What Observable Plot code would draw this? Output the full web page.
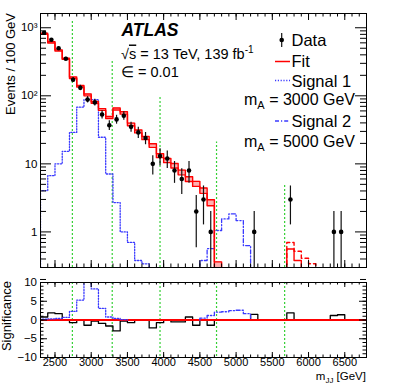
<!DOCTYPE html>
<html><head><meta charset="utf-8">
<script src="https://cdn.jsdelivr.net/npm/d3@7"></script>
<script src="https://cdn.jsdelivr.net/npm/@observablehq/plot@0.6"></script>
<style>
html,body{margin:0;padding:0;background:#fff;}
#wrap{position:relative;width:407px;height:387px;overflow:hidden;background:#fff;}
#wrap svg{position:absolute;left:0;}
</style></head>
<body><div id="wrap"></div>
<script>
// ---------------- data (bin centres in GeV, 100 GeV bins) ----------------
const binCenters = [2350,2450,2550,2650,2750,2850,2950,3050,3150,3250,3350,3450,3550,3650,3750,3850,3950,4050,4150,4250,4350,4450,4550,4650,4750,4850,4950,5050,5150,5250,5350,5450,5550,5650,5750,5850,5950,6050,6150,6250,6350,6450,6550,6650,6750];

const dataMass   = [2350,2450,2550,2650,2750,2850,2950,3050,3150,3250,3350,3450,3550,3650,3750,3850,3950,4050,4150,4250,4350,4450,4550,4650,5250,5750,6350,6450];
const dataEvents = [844,666,501,350,172,131,88,80,53,37,45,51,35,29,24,10,13,12,8,6,8,2,3,1,1,3,1,1];

const fitMass   = [2350,2450,2550,2650,2750,2850,2950,3050,3150,3250,3350,3450,3550,3650,3750,3850,3950,4050,4150,4250,4350,4450,4550,4650,4750];
const fitEvents = [816,610,464,350,184,138,103,80,63,48,64,56,38,30,24,18.6,13.2,11.2,9.4,7.5,6.0,5.1,4.05,2.7,0.33];
const fitRelUnc = [0.02,0.02,0.02,0.02,0.025,0.025,0.03,0.03,0.03,0.035,0.035,0.04,0.045,0.05,0.055,0.06,0.065,0.07,0.075,0.08,0.08,0.085,0.09,0.1,0.1];

const tailFitMass = [5750,5850];
const tailFit     = [0.56,0.38];
const tailUpMass  = [5750,5850,5950,6050];
const tailUp      = [0.70,0.52,0.41,0.34];

const sig1Mass   = [2350,2450,2550,2650,2750,2850,2950,3050,3150,3250,3350,3450,3550,3650,3750];
const sig1Events = [4.05,6.7,10,15.3,29,68,88,88,24.6,7.1,2.7,1.0,0.7,0.38,0.34];
const sig2Mass   = [4550,4650,4750,4850,4950,5050,5150];
const sig2Events = [0.38,0.57,1.05,1.55,1.84,1.47,0.63];

const greenX   = [2740,3290,3950,4730,5670];
const greenTop = [1280,330,95,21,5.1];

// significance panel
const sigData = [0.8,1.9,1.7,0,-0.7,0,-1.4,-0.3,-0.9,-1.6,-2.9,-0.3,-0.7,0,0,-2.1,-0.7,0,-0.5,-0.5,0.8,-1.4,0,-1.4,0,0,0,0,0,1.5,0,0,0,0,1.9,0,0,0,0,0,1.2,1.4,0,0,0];
const sigS1Mass = [2350,2450,2550,2650,2750,2850,2950,3050,3150,3250,3350,3450];
const sigS1     = [0.2,0.3,0.4,0.7,2.3,5.3,10.5,8.3,3.1,0.8,0.4,0.1];
const sigS2Mass = [4550,4650,4750,4850,4950,5050,5150];
const sigS2     = [0.5,1.2,2.1,2.2,2.5,2.6,1.7];

// tick labels
const xTickLabels = [2500,3000,3500,4000,4500,5000,5500,6000,6500];
const yTickVals   = [1,10,100,1000];
const yTickText   = ["1","10","10²","10³"];
const sTickVals   = [-10,-5,0,5,10];
const sTickText   = ["−10","−5","0","5","10"];

// ---------------- helpers ----------------
const FONT = '"Liberation Sans", Arial, Helvetica, sans-serif';
const floor = 0.05; // below the visible range: used to run histogram edges down out of the frame
const xDomain = [2300, 6800];
function steps(centers, values, base, dropStart, dropEnd) {
  const pts = [];
  centers.forEach((c, i) => { pts.push({x: c - 50, y: values[i]}, {x: c + 50, y: values[i]}); });
  if (dropStart) pts.unshift({x: centers[0] - 50, y: base});
  if (dropEnd) pts.push({x: centers[centers.length - 1] + 50, y: base});
  return pts;
}
const fitPts = [];
fitMass.forEach((c, i) => {
  const v = fitEvents[i], e = fitRelUnc[i];
  fitPts.push({x: c - 50, lo: v * (1 - e), hi: v * (1 + e)}, {x: c + 50, lo: v * (1 - e), hi: v * (1 + e)});
});
const fitLines = fitPts.concat([{x: fitMass[fitMass.length - 1] + 50, lo: floor, hi: floor}]);
const dataRows = dataMass.map((m, i) => ({m, n: dataEvents[i]}));
const greenRows = greenX.map((x, i) => ({x, top: greenTop[i]}));

const xMinor = d3.range(2300, 6801, 100);
const yMinor = [];
[0.1, 1, 10, 100].forEach(d => { for (let k = 2; k <= 9; k++) yMinor.push(d * k); });
const sMinor = d3.range(-10, 11, 1);

const W = 407, ML = 40, MR = 41;
const FW = W - ML - MR;
const blue = "#3a3aff";
const dotDash = "1.2,1.6";
const dashDot = "4,2,1.2,2";

// ---------------- main panel ----------------
const MH = 270, MT = 13, MB = 3, FH = MH - MT - MB;
const main = Plot.plot({
  width: W, height: MH, marginLeft: ML, marginRight: MR, marginTop: MT, marginBottom: MB,
  style: {fontFamily: FONT, background: "transparent", overflow: "visible"},
  x: {type: "linear", domain: xDomain, axis: null},
  y: {type: "log", domain: [0.3, 1620], axis: null},
  marks: [
    Plot.ruleX(greenRows, {x: "x", y1: 0.3, y2: "top", stroke: "#35d035", strokeWidth: 1.2, strokeDasharray: "2,2"}),
    Plot.line(steps(sig1Mass, sig1Events, floor, true, true), {x: "x", y: "y", stroke: blue, strokeWidth: 1.3, strokeDasharray: dotDash, clip: true}),
    Plot.line(steps(sig2Mass, sig2Events, floor, true, true), {x: "x", y: "y", stroke: blue, strokeWidth: 1.3, strokeDasharray: dashDot, clip: true}),
    Plot.areaY(fitPts, {x: "x", y1: "lo", y2: "hi", fill: "#ffb0b0", clip: true}),
    Plot.line(fitLines, {x: "x", y: "hi", stroke: "#ff0000", strokeWidth: 1.4, clip: true}),
    Plot.line(fitLines, {x: "x", y: "lo", stroke: "#ff0000", strokeWidth: 1.4, clip: true}),
    Plot.line(steps(tailFitMass, tailFit, floor, true, true), {x: "x", y: "y", stroke: "#ff0000", strokeWidth: 1.4, clip: true}),
    Plot.line(steps(tailUpMass, tailUp, floor, true, true), {x: "x", y: "y", stroke: "#ff0000", strokeWidth: 1.4, strokeDasharray: "4,3", clip: true}),
    Plot.ruleX(dataRows, {x: "m", y1: d => Math.max(d.n - Math.sqrt(d.n), floor), y2: d => d.n + Math.sqrt(d.n), stroke: "#111", strokeWidth: 1.2, clip: true}),
    Plot.dot(dataRows, {x: "m", y: "n", r: 2.3, fill: "#000", stroke: "none"}),
    // ticks
    Plot.tickX(xMinor, {x: d => d, insetTop: FH - 3.5, stroke: "#000"}),
    Plot.tickX(xTickLabels, {x: d => d, insetTop: FH - 7, stroke: "#000"}),
    Plot.tickX(xMinor, {x: d => d, insetBottom: FH - 3.5, stroke: "#000"}),
    Plot.tickX(xTickLabels, {x: d => d, insetBottom: FH - 7, stroke: "#000"}),
    Plot.tickY(yMinor, {y: d => d, insetRight: FW - 6, stroke: "#000"}),
    Plot.tickY(yTickVals, {y: d => d, insetRight: FW - 11, stroke: "#000"}),
    Plot.tickY(yMinor, {y: d => d, insetLeft: FW - 6, stroke: "#000"}),
    Plot.tickY(yTickVals, {y: d => d, insetLeft: FW - 11, stroke: "#000"}),
    Plot.frame({stroke: "#000", strokeWidth: 1}),
    Plot.text(yTickVals, {y: d => d, text: (d, i) => yTickText[i], frameAnchor: "left", textAnchor: "end", dx: -3, fontSize: 11.5, fill: "#000"})
  ]
});
main.style.top = "0px";
document.getElementById("wrap").appendChild(main);

// annotations & legend
{
  const g = d3.select(main).append("g").attr("font-family", FONT).attr("fill", "#000").attr("text-anchor", "start");
  g.append("text").attr("x", 121.5).attr("y", 36).attr("font-size", 17.5).attr("font-weight", "bold").attr("font-style", "italic").text("ATLAS");
  const t1 = g.append("text").attr("x", 121).attr("y", 58.5).attr("font-size", 14.5);
  t1.append("tspan").text("√");
  t1.append("tspan").attr("text-decoration", "overline").text("s");
  t1.append("tspan").text(" = 13 TeV, 139 fb");
  t1.append("tspan").attr("dy", -6).attr("font-size", 10).text("-1");
  g.append("text").attr("x", 121).attr("y", 77).attr("font-size", 14.5).text("∈ = 0.01");

  g.append("line").attr("x1", 281.7).attr("x2", 281.7).attr("y1", 33).attr("y2", 47).attr("stroke", "#111").attr("stroke-width", 1.2);
  g.append("circle").attr("cx", 281.7).attr("cy", 40).attr("r", 2.3);
  g.append("text").attr("x", 291.5).attr("y", 45.5).attr("font-size", 16.5).text("Data");
  g.append("line").attr("x1", 275).attr("x2", 290).attr("y1", 61.5).attr("y2", 61.5).attr("stroke", "#ff0000").attr("stroke-width", 1.5);
  g.append("text").attr("x", 291.5).attr("y", 66.5).attr("font-size", 16.5).text("Fit");
  g.append("line").attr("x1", 275).attr("x2", 290).attr("y1", 80.5).attr("y2", 80.5).attr("stroke", blue).attr("stroke-width", 1.3).attr("stroke-dasharray", dotDash);
  g.append("text").attr("x", 291.5).attr("y", 86.5).attr("font-size", 16.5).text("Signal 1");
  const m1 = g.append("text").attr("x", 355).attr("y", 104.5).attr("font-size", 16).attr("text-anchor", "end");
  m1.append("tspan").text("m");
  m1.append("tspan").attr("dy", 4).attr("font-size", 11).text("A");
  m1.append("tspan").attr("dy", -4).text(" = 3000 GeV");
  g.append("line").attr("x1", 275).attr("x2", 290).attr("y1", 121).attr("y2", 121).attr("stroke", blue).attr("stroke-width", 1.3).attr("stroke-dasharray", dashDot);
  g.append("text").attr("x", 291.5).attr("y", 127).attr("font-size", 16.5).text("Signal 2");
  const m2 = g.append("text").attr("x", 355).attr("y", 146.5).attr("font-size", 16).attr("text-anchor", "end");
  m2.append("tspan").text("m");
  m2.append("tspan").attr("dy", 4).attr("font-size", 11).text("A");
  m2.append("tspan").attr("dy", -4).text(" = 5000 GeV");

  g.append("text").attr("transform", "translate(14.5,13) rotate(-90)").attr("text-anchor", "end").attr("font-size", 13).text("Events / 100 GeV");
}

// ---------------- significance panel ----------------
const SH = 117, ST = 12, SB = 30, SFH = SH - ST - SB;
const sub = Plot.plot({
  width: W, height: SH, marginLeft: ML, marginRight: MR, marginTop: ST, marginBottom: SB,
  style: {fontFamily: FONT, background: "transparent", overflow: "visible"},
  x: {type: "linear", domain: xDomain, axis: null},
  y: {type: "linear", domain: [-10, 10], axis: null},
  marks: [
    Plot.ruleX(greenX, {x: d => d, stroke: "#35d035", strokeWidth: 1.2, strokeDasharray: "2,2"}),
    Plot.line(steps(binCenters, sigData, 0, false, false), {x: "x", y: "y", stroke: "#000", strokeWidth: 1.3, clip: true}),
    Plot.ruleY([0], {stroke: "#ff0000", strokeWidth: 2}),
    Plot.line(steps(sigS1Mass, sigS1, 0, true, true), {x: "x", y: "y", stroke: blue, strokeWidth: 1.3, strokeDasharray: dotDash, clip: true}),
    Plot.line(steps(sigS2Mass, sigS2, 0, true, true), {x: "x", y: "y", stroke: blue, strokeWidth: 1.3, strokeDasharray: dashDot, clip: true}),
    Plot.tickX(xMinor, {x: d => d, insetTop: SFH - 2.5, stroke: "#000"}),
    Plot.tickX(xTickLabels, {x: d => d, insetTop: SFH - 5, stroke: "#000"}),
    Plot.tickX(xMinor, {x: d => d, insetBottom: SFH - 2.5, stroke: "#000"}),
    Plot.tickX(xTickLabels, {x: d => d, insetBottom: SFH - 5, stroke: "#000"}),
    Plot.tickY(sMinor, {y: d => d, insetRight: FW - 3.5, stroke: "#000"}),
    Plot.tickY(sTickVals, {y: d => d, insetRight: FW - 7, stroke: "#000"}),
    Plot.tickY(sMinor, {y: d => d, insetLeft: FW - 3.5, stroke: "#000"}),
    Plot.tickY(sTickVals, {y: d => d, insetLeft: FW - 7, stroke: "#000"}),
    Plot.frame({stroke: "#000", strokeWidth: 1}),
    Plot.text(sTickVals, {y: d => d, text: (d, i) => sTickText[i], frameAnchor: "left", textAnchor: "end", dx: -3.5, fontSize: 11.5, fill: "#000"}),
    Plot.text(xTickLabels, {x: d => d, text: d => String(d), frameAnchor: "bottom", dy: 8, fontSize: 11, fill: "#000"})
  ]
});
sub.style.top = "270px";
document.getElementById("wrap").appendChild(sub);
{
  const g = d3.select(sub).append("g").attr("font-family", FONT).attr("fill", "#000");
  g.append("text").attr("transform", "translate(11,11) rotate(-90)").attr("text-anchor", "end").attr("font-size", 13).text("Significance");
  const t = g.append("text").attr("x", 366).attr("y", 109.5).attr("font-size", 11.5).attr("text-anchor", "end");
  t.append("tspan").text("m");
  t.append("tspan").attr("dy", 3).attr("font-size", 8).text("JJ");
  t.append("tspan").attr("dy", -3).text(" [GeV]");
}
</script>
</body></html>
